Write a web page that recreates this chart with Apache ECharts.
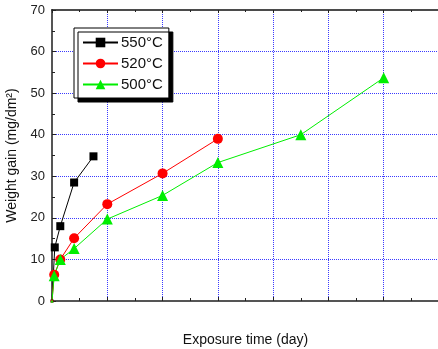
<!DOCTYPE html>
<html>
<head>
<meta charset="utf-8">
<script src="https://cdn.jsdelivr.net/npm/echarts@6/dist/echarts.min.js"></script>
<style>
  html, body { margin: 0; padding: 0; background: #fff; }
  #chart { width: 438px; height: 349px; }
</style>
</head>
<body>
<div id="chart"></div>
<script>
    // exposure time (day) and weight gain (mg/dm2)
    var days550 = [0, 0.5, 1.5, 4, 7.5];
    var gain550 = [0, 12.9, 18.0, 28.5, 34.8];
    var days520 = [0, 0.4, 1.5, 4, 10, 20, 30];
    var gain520 = [0, 6.3, 10.0, 15.1, 23.3, 30.7, 39.0];
    var days500 = [0, 0.4, 1.5, 4, 10, 20, 30, 45, 60];
    var gain500 = [0, 6.1, 10.0, 12.6, 19.7, 25.4, 33.3, 40.0, 53.7];
    var yTicks = [0, 10, 20, 30, 40, 50, 60, 70];

    // origin markers are hidden behind the axes in the original
    function pairs(xs, ys) {
        var out = [];
        for (var i = 0; i < xs.length; i++) {
            if (xs[i] == 0) {
                out.push({value: [xs[i], ys[i]], symbolSize: 3});
            } else {
                out.push([xs[i], ys[i]]);
            }
        }
        return out;
    }

    var gridLine = {show: true, showMinLine: false, showMaxLine: false,
        lineStyle: {color: '#3a3aff', type: [1, 1], width: 1}};

    var option = {
        animation: false,
        textStyle: {fontFamily: 'Liberation Sans, Arial, sans-serif'},
        grid: {left: 52, right: -1, top: 10, bottom: 48, outerBoundsMode: 'none', containLabel: false},
        legend: {
            left: 74, top: 28, width: 93, height: 68,
            orient: 'vertical',
            padding: [7, 6, 6, 8],
            itemGap: 6,
            itemWidth: 35, itemHeight: 12,
            backgroundColor: '#fff',
            borderColor: '#000', borderWidth: 1,
            shadowColor: '#000', shadowBlur: 0, shadowOffsetX: 4, shadowOffsetY: 4,
            textStyle: {fontSize: 15, color: '#111', padding: [0, 0, 0, -2]},
            data: ['550°C', '520°C', '500°C']
        },
        xAxis: [{
            type: 'value', min: 0, max: 70, interval: 10,
            name: 'Exposure time (day)', nameLocation: 'middle', nameGap: 32,
            nameTextStyle: {fontSize: 14, color: '#111'},
            axisLine: {show: true, onZero: false, lineStyle: {color: '#555', width: 2}},
            axisTick: {show: true, inside: true, length: 4, lineStyle: {color: '#222'}},
            minorTick: {show: true, splitNumber: 2, length: 3, lineStyle: {color: '#222'}},
            axisLabel: {show: false},
            splitLine: gridLine
        }, {
            type: 'value', position: 'top', min: 0, max: 70, interval: 10,
            axisLine: {show: true, onZero: false, lineStyle: {color: '#111', width: 1.5}},
            axisTick: {show: true, inside: true, length: 3, lineStyle: {color: '#222'}},
            minorTick: {show: true, splitNumber: 2, length: 2, lineStyle: {color: '#222'}},
            axisLabel: {show: false},
            splitLine: {show: false}
        }],
        yAxis: {
            type: 'value', min: 0, max: 70, interval: 10,
            name: 'Weight gain (mg/dm²)', nameLocation: 'middle', nameGap: 33,
            nameTextStyle: {fontSize: 14, color: '#111'},
            axisLine: {show: true, onZero: false, lineStyle: {color: '#555', width: 2}},
            axisTick: {show: true, inside: true, length: 4, lineStyle: {color: '#222'}},
            minorTick: {show: true, splitNumber: 2, length: 3, lineStyle: {color: '#222'}},
            axisLabel: {fontSize: 13, color: '#222', margin: 7,
                formatter: function (v) { return yTicks.indexOf(v) >= 0 ? String(v) : ''; }},
            splitLine: gridLine
        },
        series: [{
            name: '550°C', type: 'line', data: pairs(days550, gain550),
            symbol: 'rect', symbolSize: 8, showAllSymbol: true,
            itemStyle: {color: '#000'}, lineStyle: {color: '#000', width: 1}
        }, {
            name: '520°C', type: 'line', data: pairs(days520, gain520),
            symbol: 'circle', symbolSize: 10, showAllSymbol: true,
            itemStyle: {color: '#ff0000'}, lineStyle: {color: '#ff0000', width: 1}
        }, {
            name: '500°C', type: 'line', data: pairs(days500, gain500),
            symbol: 'triangle', symbolSize: 11, showAllSymbol: true,
            itemStyle: {color: '#00ee00'}, lineStyle: {color: '#00ee00', width: 1}
        }]
    };
    var chart = echarts.init(document.getElementById('chart'));
    chart.setOption(option);
</script>
</body>
</html>
